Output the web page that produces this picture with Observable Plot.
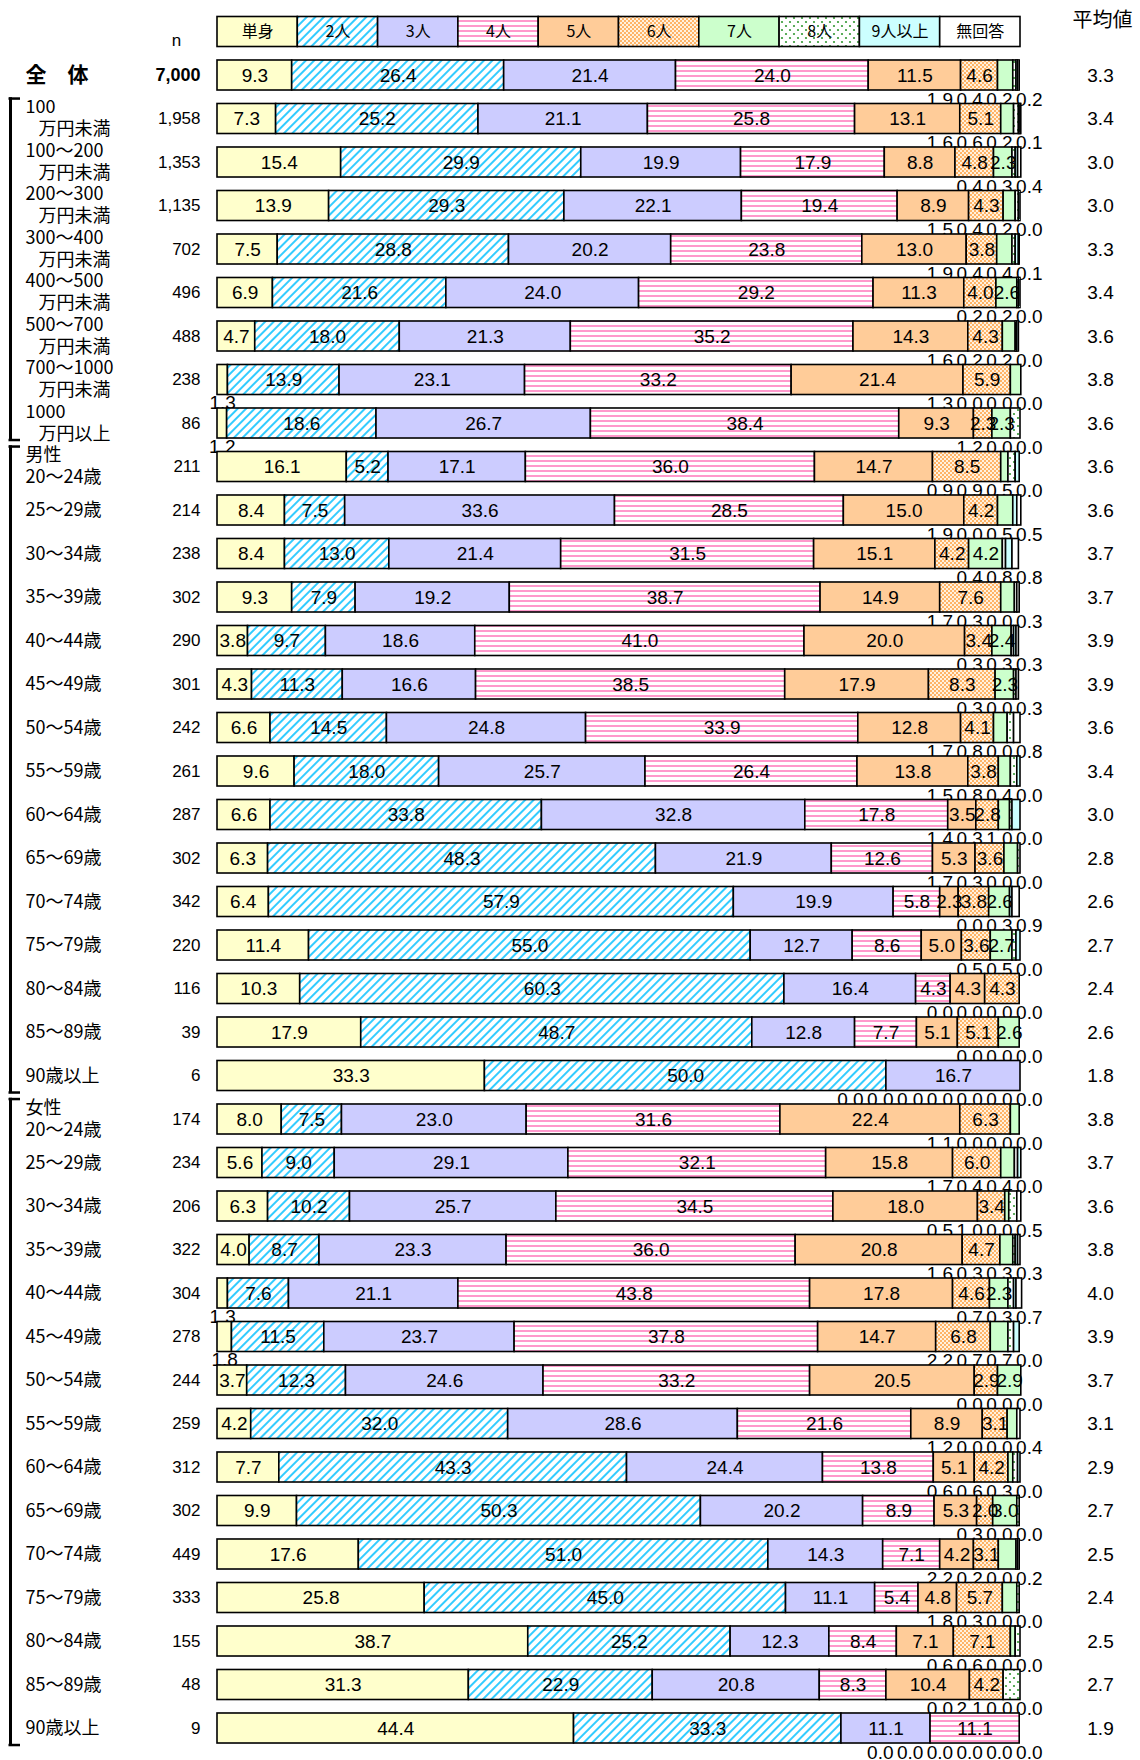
<!DOCTYPE html>
<html><head><meta charset="utf-8">
<script src="https://cdn.jsdelivr.net/npm/d3@7"></script>
<script src="https://cdn.jsdelivr.net/npm/@observablehq/plot@0.6"></script>
<style>body{margin:0;background:#fff}</style>
</head><body><div id="chart"></div>
<script>
const categories = ["単身","2人","3人","4人","5人","6人","7人","8人","9人以上","無回答"];
const fills = ["#FFFFCC","url(#p2)","#CCCCFF","url(#p4)","#FFCC99","url(#p6)","#CCFFCC","url(#p8)","#CCFFFF","#FFFFFF"];

const rowLabels = [
  "全　体",
  "100\n万円未満","100～200\n万円未満","200～300\n万円未満","300～400\n万円未満","400～500\n万円未満","500～700\n万円未満","700～1000\n万円未満","1000\n万円以上",
  "男性\n20～24歳","25～29歳","30～34歳","35～39歳","40～44歳","45～49歳","50～54歳","55～59歳","60～64歳","65～69歳","70～74歳","75～79歳","80～84歳","85～89歳","90歳以上",
  "女性\n20～24歳","25～29歳","30～34歳","35～39歳","40～44歳","45～49歳","50～54歳","55～59歳","60～64歳","65～69歳","70～74歳","75～79歳","80～84歳","85～89歳","90歳以上"
];
const nValues = [7000,
  1958,1353,1135,702,496,488,238,86,
  211,214,238,302,290,301,242,261,287,302,342,220,116,39,6,
  174,234,206,322,304,278,244,259,312,302,449,333,155,48,9];
const means = [3.3,
  3.4,3.0,3.0,3.3,3.4,3.6,3.8,3.6,
  3.6,3.6,3.7,3.7,3.9,3.9,3.6,3.4,3.0,2.8,2.6,2.7,2.4,2.6,1.8,
  3.8,3.7,3.6,3.8,4.0,3.9,3.7,3.1,2.9,2.7,2.5,2.4,2.5,2.7,1.9];

const totalValues = [
  [9.3,26.4,21.4,24.0,11.5,4.6,1.9,0.4,0.2,0.2]
];
const incomeValues = [
  [7.3,25.2,21.1,25.8,13.1,5.1,1.6,0.6,0.2,0.1],
  [15.4,29.9,19.9,17.9,8.8,4.8,2.3,0.4,0.3,0.4],
  [13.9,29.3,22.1,19.4,8.9,4.3,1.5,0.4,0.2,0.0],
  [7.5,28.8,20.2,23.8,13.0,3.8,1.9,0.4,0.4,0.1],
  [6.9,21.6,24.0,29.2,11.3,4.0,2.6,0.2,0.2,0.0],
  [4.7,18.0,21.3,35.2,14.3,4.3,1.6,0.2,0.2,0.0],
  [1.3,13.9,23.1,33.2,21.4,5.9,1.3,0.0,0.0,0.0],
  [1.2,18.6,26.7,38.4,9.3,2.3,2.3,1.2,0.0,0.0]
];
const maleValues = [
  [16.1,5.2,17.1,36.0,14.7,8.5,0.9,0.9,0.5,0.0],
  [8.4,7.5,33.6,28.5,15.0,4.2,1.9,0.0,0.5,0.5],
  [8.4,13.0,21.4,31.5,15.1,4.2,4.2,0.4,0.8,0.8],
  [9.3,7.9,19.2,38.7,14.9,7.6,1.7,0.3,0.0,0.3],
  [3.8,9.7,18.6,41.0,20.0,3.4,2.4,0.3,0.3,0.3],
  [4.3,11.3,16.6,38.5,17.9,8.3,2.3,0.3,0.0,0.3],
  [6.6,14.5,24.8,33.9,12.8,4.1,1.7,0.8,0.0,0.8],
  [9.6,18.0,25.7,26.4,13.8,3.8,1.5,0.8,0.4,0.0],
  [6.6,33.8,32.8,17.8,3.5,2.8,1.4,0.3,1.0,0.0],
  [6.3,48.3,21.9,12.6,5.3,3.6,1.7,0.3,0.0,0.0],
  [6.4,57.9,19.9,5.8,2.3,3.8,2.6,0.0,0.3,0.9],
  [11.4,55.0,12.7,8.6,5.0,3.6,2.7,0.5,0.5,0.0],
  [10.3,60.3,16.4,4.3,4.3,4.3,0.0,0.0,0.0,0.0],
  [17.9,48.7,12.8,7.7,5.1,5.1,2.6,0.0,0.0,0.0],
  [33.3,50.0,16.7,0.0,0.0,0.0,0.0,0.0,0.0,0.0]
];
const femaleValues = [
  [8.0,7.5,23.0,31.6,22.4,6.3,1.1,0.0,0.0,0.0],
  [5.6,9.0,29.1,32.1,15.8,6.0,1.7,0.4,0.4,0.0],
  [6.3,10.2,25.7,34.5,18.0,3.4,0.5,1.0,0.0,0.5],
  [4.0,8.7,23.3,36.0,20.8,4.7,1.6,0.3,0.3,0.3],
  [1.3,7.6,21.1,43.8,17.8,4.6,2.3,0.7,0.3,0.7],
  [1.8,11.5,23.7,37.8,14.7,6.8,2.2,0.7,0.7,0.0],
  [3.7,12.3,24.6,33.2,20.5,2.9,2.9,0.0,0.0,0.0],
  [4.2,32.0,28.6,21.6,8.9,3.1,1.2,0.0,0.0,0.4],
  [7.7,43.3,24.4,13.8,5.1,4.2,0.6,0.6,0.3,0.0],
  [9.9,50.3,20.2,8.9,5.3,2.0,3.0,0.3,0.0,0.0],
  [17.6,51.0,14.3,7.1,4.2,3.1,2.2,0.2,0.0,0.2],
  [25.8,45.0,11.1,5.4,4.8,5.7,1.8,0.3,0.0,0.0],
  [38.7,25.2,12.3,8.4,7.1,7.1,0.6,0.6,0.0,0.0],
  [31.3,22.9,20.8,8.3,10.4,4.2,0.0,2.1,0.0,0.0],
  [44.4,33.3,11.1,11.1,0.0,0.0,0.0,0.0,0.0,0.0]
];
const groups = [{name:"income",start:1,end:8},{name:"male",start:9,end:23},{name:"female",start:24,end:38}];

// layout (pixels)
const BX0 = 217, BX1 = 1020;
const px = p => (p - BX0) / (BX1 - BX0) * 100;
const NUM = "Liberation Sans, Arial, sans-serif";
const JP = "Noto Sans CJK JP, sans-serif";

const values = [...totalValues, ...incomeValues, ...maleValues, ...femaleValues];
const rows = values.map((v, i) => {
  const parts = rowLabels[i].split("\n");
  return {i, top: parts.length > 1 ? parts[0] : null, main: parts[parts.length - 1],
    n: nValues[i], mean: means[i], v, income: i >= 1 && i <= 8};
});
const segs = [], inside = [], firstBelow = [], cluster = [];
rows.forEach(r => {
  let c = 0;
  const cl = [];
  r.v.forEach((v, j) => {
    const s = {row: r.i, cat: categories[j], j, v, x1: c, x2: c + v};
    c += v;
    segs.push(s);
    const small = j >= 6 ? v < 2.25 : v < 2.0;
    if (!small) inside.push(s);
    else if (j === 0) firstBelow.push(s);
    else cl.push(s);
  });
  cl.forEach((s, k) => cluster.push({...s, k, kn: cl.length}));
});
const legend = categories.map((c, j) => ({cat: c, x1: j * 10, x2: (j + 1) * 10}));
const H = 0.345;
const fmt = v => v.toFixed(1);

const plot = Plot.plot({
  width: 1140, height: 1760, margin: 0,
  x: {domain: [px(0), px(1140)], range: [0, 1140], axis: null},
  y: {domain: [-1, 38], range: [31.5, 1728], axis: null},
  color: {domain: categories, range: fills},
  style: {background: "white", overflow: "visible"},
  marks: [
    // labels placed below bars (drawn first so the next bar covers their lower edge)
    Plot.text(cluster, {x: d => px(1042 - (d.kn - 1 - d.k) * 29.8), y: d => d.row + 0.55, text: d => fmt(d.v),
      textAnchor: "end", fontSize: 19, fontFamily: NUM, fill: "black"}),
    Plot.text(firstBelow, {x: d => (d.x1 + d.x2) / 2, y: d => d.row + 0.53, text: d => fmt(d.v),
      fontSize: 19, fontFamily: NUM, fill: "black"}),
    // legend
    Plot.rect(legend, {x1: "x1", x2: "x2", y1: -1 - H, y2: -1 + H, fill: "cat", stroke: "black", strokeWidth: 1.6}),
    Plot.text(legend, {x: d => (d.x1 + d.x2) / 2, y: -1, text: "cat", fontSize: 16, fontFamily: JP, fill: "black"}),
    // bars
    Plot.rect(segs, {x1: "x1", x2: "x2", y1: d => d.row - H, y2: d => d.row + H, fill: "cat", stroke: "black", strokeWidth: 1.6}),
    Plot.text(inside, {x: d => (d.x1 + d.x2) / 2, y: "row", text: d => fmt(d.v), fontSize: 19, fontFamily: NUM, fill: "black"}),
    // left labels
    Plot.text(rows.filter(r => r.i === 0), {x: px(25), y: "i", text: "main", textAnchor: "start", fontSize: 21, fontWeight: "bold", fontFamily: JP, fill: "black"}),
    Plot.text(rows.filter(r => r.i > 0 && !r.top), {x: px(25), y: "i", text: "main", textAnchor: "start", fontSize: 18, fontFamily: JP, fill: "black"}),
    Plot.text(rows.filter(r => r.top), {x: px(25), y: d => d.i - 0.27, text: "top", textAnchor: "start", fontSize: 18, fontFamily: JP, fill: "black"}),
    Plot.text(rows.filter(r => r.top), {x: d => px(d.income ? 38 : 25), y: d => d.i + 0.24, text: "main", textAnchor: "start", fontSize: 18, fontFamily: JP, fill: "black"}),
    // n
    Plot.text(rows.filter(r => r.i === 0), {x: px(200), y: "i", text: d => d3.format(",")(d.n), textAnchor: "end", fontSize: 18,
      fontWeight: "bold", fontFamily: NUM, fill: "black"}),
    Plot.text(rows.filter(r => r.i > 0), {x: px(200), y: "i", text: d => d3.format(",")(d.n), textAnchor: "end", fontSize: 17,
      fontFamily: NUM, fill: "black"}),
    Plot.text(["n"], {x: px(176), y: -0.8, text: d => d, fontSize: 17, fontFamily: NUM, fill: "black"}),
    // mean
    Plot.text(rows, {x: px(1100), y: "i", text: d => fmt(d.mean), fontSize: 19, fontFamily: NUM, fill: "black"}),
    Plot.text(["平均値"], {x: px(1102), y: -1.26, text: d => d, fontSize: 20, fontFamily: JP, fill: "black"}),
    // brackets
    Plot.ruleX(groups, {x: px(10), y1: d => d.start - 0.5 + 0.01, y2: d => d.end + 0.5 - 0.1, stroke: "black", strokeWidth: 3}),
    Plot.ruleY(groups, {y: d => d.start - 0.5 + 0.03, x1: px(8.5), x2: px(20), stroke: "black", strokeWidth: 2.5}),
    Plot.ruleY(groups, {y: d => d.end + 0.5 - 0.12, x1: px(8.5), x2: px(20), stroke: "black", strokeWidth: 2.5})
  ]
});

const defs = `<defs>
<pattern id="p2" width="6" height="6" patternUnits="userSpaceOnUse" patternTransform="rotate(45)">
  <rect width="6" height="6" fill="#FFFFFF"/>
  <rect width="2" height="6" fill="#33CCFF"/>
</pattern>
<pattern id="p4" width="6" height="5" patternUnits="userSpaceOnUse">
  <rect width="6" height="5" fill="#FFFFFF"/>
  <rect y="0" width="6" height="2" fill="#FF99CC"/>
</pattern>
<pattern id="p6" width="4" height="4" patternUnits="userSpaceOnUse">
  <rect width="4" height="4" fill="#FFF1DE"/>
  <circle cx="1" cy="1" r="0.95" fill="#FF9933"/>
  <circle cx="3" cy="3" r="0.95" fill="#FF9933"/>
</pattern>
<pattern id="p8" width="8" height="8" patternUnits="userSpaceOnUse">
  <rect width="8" height="8" fill="#FFFFFF"/>
  <circle cx="2" cy="2" r="1.1" fill="#339933"/>
  <circle cx="6" cy="6" r="1.1" fill="#339933"/>
</pattern>
</defs>`;
plot.insertAdjacentHTML("afterbegin", defs);
document.getElementById("chart").appendChild(plot);
</script>
</body></html>
